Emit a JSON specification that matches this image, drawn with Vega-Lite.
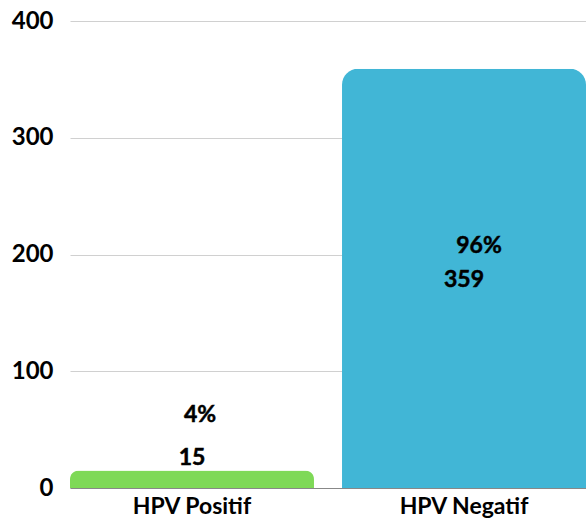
{
  "$schema": "https://vega.github.io/schema/vega-lite/v6.json",
  "autosize": {"type": "none"},
  "padding": {"left": 70, "top": 21, "right": 0, "bottom": 36},
  "width": 516,
  "height": 467,
  "background": "white",
  "config": {"view": {"stroke": null}, "font": "Lato"},
  "data": {"values": [
    {"cat": "HPV Positif", "count": 15, "pct": "4%"},
    {"cat": "HPV Negatif", "count": 359, "pct": "96%"}
  ]},
  "encoding": {
    "x": {"field": "cat", "type": "nominal", "sort": ["HPV Positif", "HPV Negatif"],
      "scale": {"paddingInner": 0.103, "paddingOuter": 0},
      "axis": {"title": null, "labelAngle": 0, "labelFont": "Lato", "labelFontWeight": "bold", "labelFontSize": 23, "labelColor": "#000000", "ticks": false, "domain": true, "domainColor": "#888888", "labelPadding": 7}},
    "y": {"field": "count", "type": "quantitative",
      "scale": {"domain": [0, 400], "nice": false},
      "axis": {"title": null, "values": [0, 100, 200, 300, 400], "labelFont": "Lato", "labelFontWeight": "bold", "labelFontSize": 24, "labelColor": "#000000", "ticks": false, "domain": false, "gridColor": "#d0d0d0", "gridWidth": 1, "labelPadding": 17}}
  },
  "layer": [
    {"mark": {"type": "bar", "cornerRadiusTopLeft": 16, "cornerRadiusTopRight": 16},
     "encoding": {"color": {"field": "cat", "type": "nominal", "scale": {"domain": ["HPV Positif", "HPV Negatif"], "range": ["#7ed957", "#41b6d6"]}, "legend": null}}},
    {"transform": [{"filter": "datum.cat == 'HPV Positif'"}],
     "mark": {"type": "text", "font": "Lato", "fontWeight": "bold", "fontSize": 23, "color": "#000000", "stroke": "#000000", "strokeWidth": 0.5, "baseline": "middle", "dy": -12},
     "encoding": {"text": {"field": "count"}}},
    {"transform": [{"filter": "datum.cat == 'HPV Positif'"}],
     "mark": {"type": "text", "font": "Lato", "fontWeight": "bold", "fontSize": 23, "color": "#000000", "stroke": "#000000", "strokeWidth": 0.5, "baseline": "middle", "dy": -55, "dx": 8},
     "encoding": {"text": {"field": "pct"}}},
    {"transform": [{"filter": "datum.cat == 'HPV Negatif'"}],
     "mark": {"type": "text", "font": "Lato", "fontWeight": "bold", "fontSize": 23, "color": "#000000", "stroke": "#000000", "strokeWidth": 0.5, "baseline": "middle", "dy": 211},
     "encoding": {"text": {"field": "count"}}},
    {"transform": [{"filter": "datum.cat == 'HPV Negatif'"}],
     "mark": {"type": "text", "font": "Lato", "fontWeight": "bold", "fontSize": 23, "color": "#000000", "stroke": "#000000", "strokeWidth": 0.5, "baseline": "middle", "dy": 177, "dx": 15},
     "encoding": {"text": {"field": "pct"}}}
  ]
}
